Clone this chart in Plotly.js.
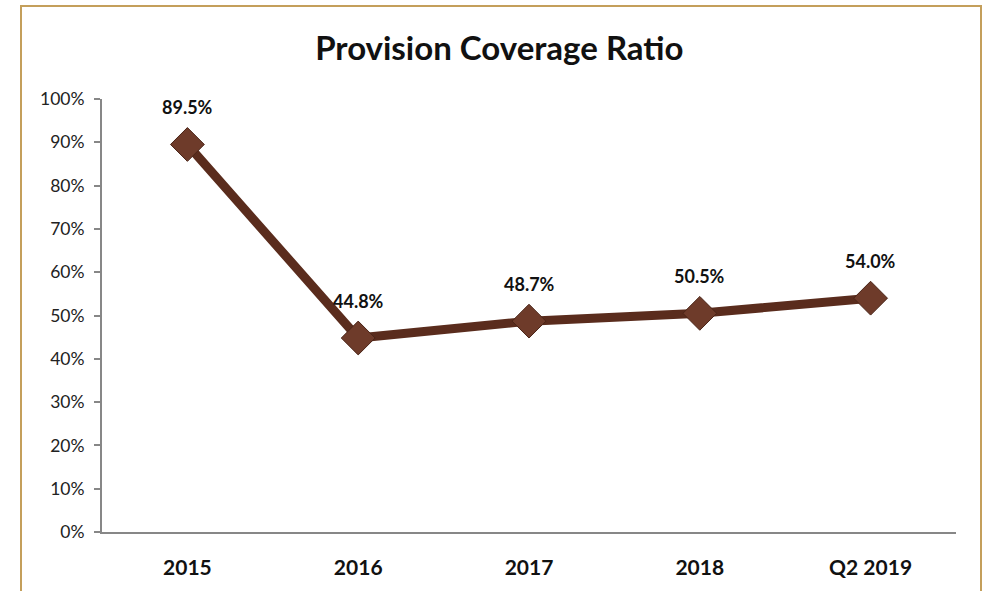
<!DOCTYPE html>
<html>
<head>
<meta charset="utf-8">
<script src="https://cdn.plot.ly/plotly-3.0.1.min.js"></script>
<style>
html,body{margin:0;padding:0;background:#fff;}
#wrap{position:relative;width:983px;height:591px;}
#chart{width:983px;height:591px;}
#frame{position:absolute;left:20px;top:5px;width:958px;height:600px;border:2px solid #C49F5B;pointer-events:none;}
</style>
</head>
<body>
<div id="wrap"><div id="chart"></div><div id="frame"></div></div>
<script>
const categories = ["2015", "2016", "2017", "2018", "Q2 2019"];
const coverage = [0.895, 0.448, 0.487, 0.505, 0.540];
const labels = ["89.5%", "44.8%", "48.7%", "50.5%", "54.0%"];
const yTicks = [0, 0.1, 0.2, 0.3, 0.4, 0.5, 0.6, 0.7, 0.8, 0.9, 1.0];

const font = "Lato, 'Open Sans', sans-serif";
const xIdx = categories.map((c, i) => i);

const trace = {
  x: xIdx,
  y: coverage,
  type: "scatter",
  mode: "lines+markers",
  line: {color: "#5A2C1D", width: 9},
  marker: {symbol: "diamond", size: 26, color: "#6E3B2A", line: {color: "#4A2417", width: 1}},
  hoverinfo: "skip"
};

const annotations = xIdx.map((x, i) => ({
  x: x, y: coverage[i], xref: "x", yref: "y",
  text: "<b>" + labels[i] + "</b>",
  showarrow: false, yshift: 37,
  font: {family: font, size: 18, color: "#111"}
}));

const layout = {
  width: 983, height: 591,
  margin: {l: 102, r: 27, t: 99, b: 59},
  paper_bgcolor: "#fff", plot_bgcolor: "#fff",
  showlegend: false,
  title: {text: "<b>Provision Coverage Ratio</b>", x: 0.508, xanchor: "center", y: 0.918, yanchor: "middle",
          font: {family: font, size: 33, color: "#111"}},
  xaxis: {
    range: [-0.5, categories.length - 0.5],
    tickvals: xIdx, ticktext: categories.map(c => "<b>" + c + "</b>"),
    showgrid: false, zeroline: false,
    showline: true, linecolor: "#878787", linewidth: 2,
    ticks: "", tickfont: {family: font, size: 21, color: "#111"},
    ticklabelstandoff: 16, fixedrange: true
  },
  yaxis: {
    range: [0, 1], tickvals: yTicks, tickformat: ".0%",
    showgrid: false, zeroline: false,
    showline: true, linecolor: "#878787", linewidth: 2,
    ticks: "outside", ticklen: 6, tickcolor: "#878787", tickwidth: 2,
    tickfont: {family: font, size: 17.5, color: "#222"},
    ticklabelstandoff: 6, fixedrange: true
  },
  annotations: annotations
};

Plotly.newPlot("chart", [trace], layout, {displayModeBar: false, staticPlot: true});
</script>
</body>
</html>
